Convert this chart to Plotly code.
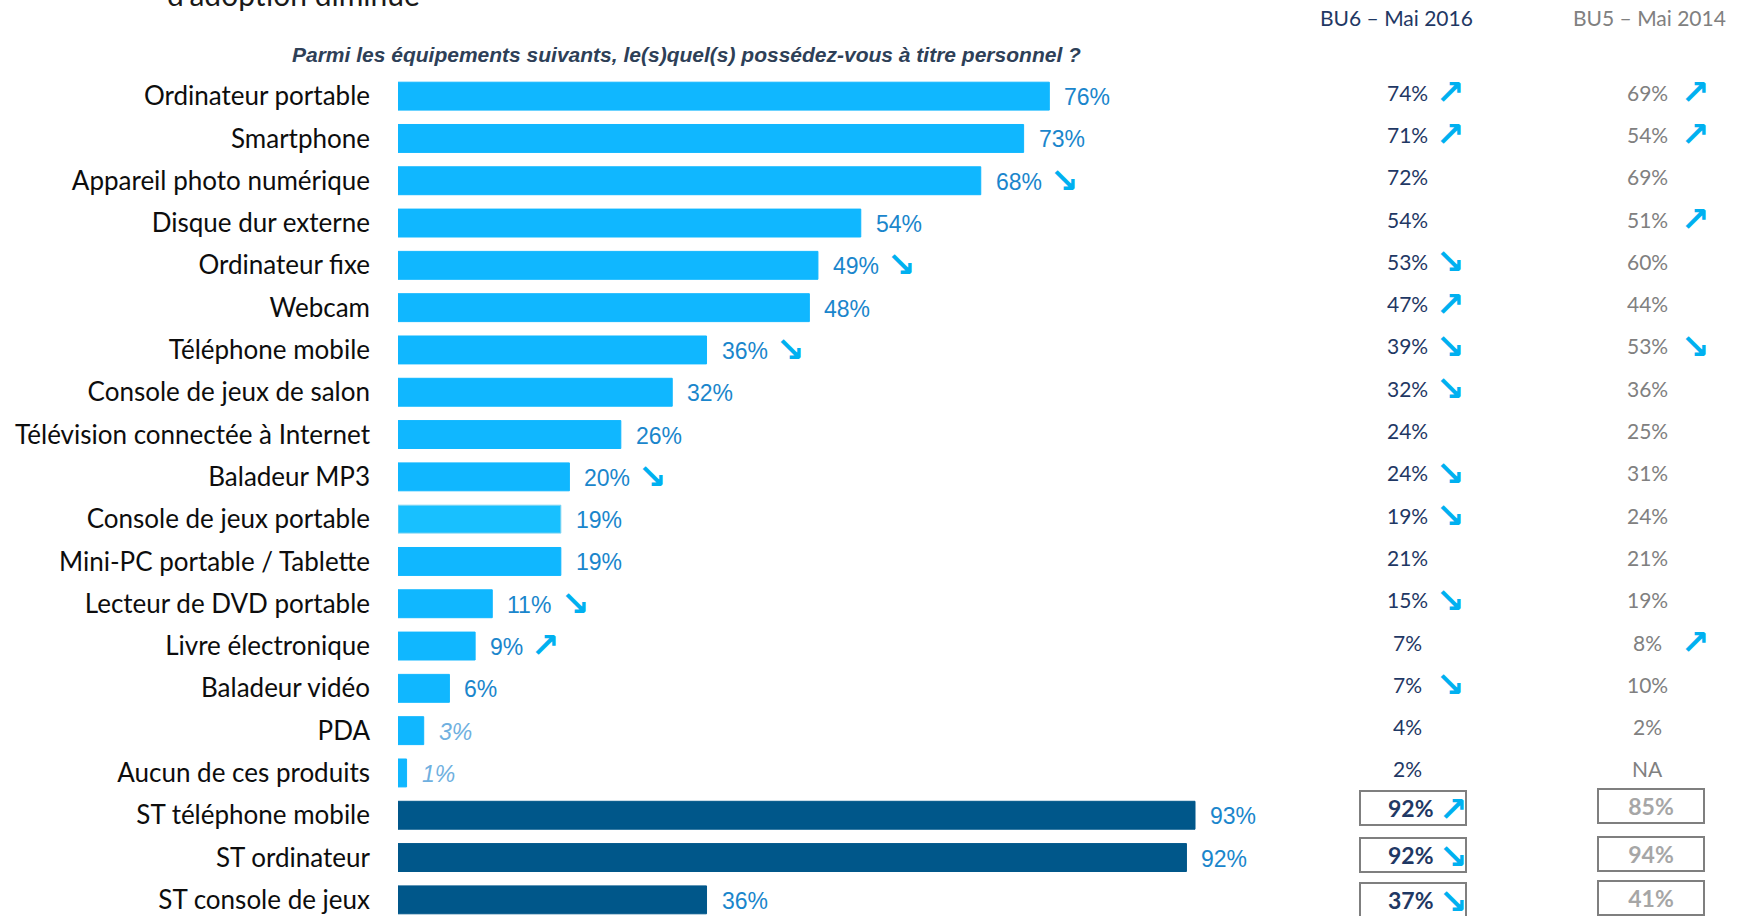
import plotly.graph_objects as go

# ---- data -------------------------------------------------------------
categories = [
    "Ordinateur portable", "Smartphone", "Appareil photo numérique",
    "Disque dur externe", "Ordinateur fixe", "Webcam", "Téléphone mobile",
    "Console de jeux de salon", "Télévision connectée à Internet",
    "Baladeur MP3", "Console de jeux portable", "Mini-PC portable / Tablette",
    "Lecteur de DVD portable", "Livre électronique", "Baladeur vidéo", "PDA",
    "Aucun de ces produits", "ST téléphone mobile", "ST ordinateur",
    "ST console de jeux",
]
values_2018 = [76, 73, 68, 54, 49, 48, 36, 32, 26, 20, 19, 19, 11, 9, 6, 3, 1, 93, 92, 36]
trend_2018 = ["", "", "down", "", "down", "", "down", "", "", "down",
              "", "", "down", "up", "", "", "", "", "", ""]

bu6_labels = ["74%", "71%", "72%", "54%", "53%", "47%", "39%", "32%", "24%", "24%",
              "19%", "21%", "15%", "7%", "7%", "4%", "2%", "92%", "92%", "37%"]
bu6_trend = ["up", "up", "", "", "down", "up", "down", "down", "", "down",
             "down", "", "down", "", "down", "", "", "up", "down", "down"]

bu5_labels = ["69%", "54%", "69%", "51%", "60%", "44%", "53%", "36%", "25%", "31%",
              "24%", "21%", "19%", "8%", "10%", "2%", "NA", "85%", "94%", "41%"]
bu5_trend = ["up", "up", "", "up", "", "", "down", "", "", "",
             "", "", "", "up", "", "", "", "", "", ""]

summary_rows = ["ST téléphone mobile", "ST ordinateur", "ST console de jeux"]

# ---- styling ----------------------------------------------------------
W, H = 1747, 916
ML, MT = 398, 75
PLOT_W, PLOT_H = W - ML, H - MT
PX_PER_PCT = 8.57
ROW_PX = 42.3

LIGHT = "#10B7FF"
DARK = "#00578A"
VALUE_COL = "#1A86CC"
VALUE_SOFT = "#6FB0E0"
ARROW_COL = "#00B0F0"
NAVY = "#1F3864"
GREY = "#808080"
GREY_LIGHT = "#A6A6A6"
ARROWS = {"up": "↗", "down": "↘"}
ARROW_SIZE = 34


def px_x(px):
    return (px - ML) / PLOT_W


def px_y(py):
    return (H - py) / PLOT_H


bar_colors = []
line_colors = []
for c in categories:
    if c in summary_rows:
        bar_colors.append(DARK)
        line_colors.append(DARK)
    elif c == "Console de jeux portable":
        bar_colors.append("#18C0FF")
        line_colors.append("#7ED4F2")
    else:
        bar_colors.append(LIGHT)
        line_colors.append(LIGHT)

fig = go.Figure(
    go.Bar(
        x=values_2018,
        y=categories,
        orientation="h",
        width=0.66,
        marker=dict(color=bar_colors, line=dict(color=line_colors, width=1)),
        hoverinfo="skip",
    )
)

annotations = []


def arrow_ann(x_px, cat, kind, yshift):
    return dict(
        x=px_x(x_px), y=cat, xref="paper", yref="y",
        text=f"<b>{ARROWS[kind]}</b>",
        showarrow=False, xanchor="center", yanchor="middle", yshift=yshift,
        font=dict(family="DejaVu Sans", size=ARROW_SIZE, color=ARROW_COL),
    )


# value labels at the end of each bar
for cat, v, t in zip(categories, values_2018, trend_2018):
    soft = v <= 3
    txt = f"{v}%"
    if soft:
        txt = f"<i>{txt}</i>"
    annotations.append(dict(
        x=v, y=cat, xref="x", yref="y", text=txt, showarrow=False,
        xanchor="left", yanchor="middle", xshift=13, yshift=-1,
        font=dict(family="Liberation Sans, Arial", size=23,
                  color=VALUE_SOFT if soft else VALUE_COL),
    ))
    if t:
        # trend arrow placed just after the value label
        annotations.append(dict(
            x=v, y=cat, xref="x", yref="y", text=f"<b>{ARROWS[t]}</b>",
            showarrow=False, xanchor="left", yanchor="middle",
            xshift=13 + (len(f"{v}%") - 1) * 13 + 20 + 8, yshift=1,
            font=dict(family="DejaVu Sans", size=ARROW_SIZE, color=ARROW_COL),
        ))

# comparison columns
BU6_X, BU6_ARROW_X = 1407, 1450
BU5_X, BU5_ARROW_X = 1647, 1695
box_shift_6 = [7, 3, 0]
box_shift_5 = [9, 4, 2]

for i, cat in enumerate(categories):
    if cat in summary_rows:
        k = summary_rows.index(cat)
        annotations.append(dict(
            x=px_x(1413), y=cat, xref="paper", yref="y", text="",
            showarrow=False, xanchor="center", yanchor="middle",
            width=100, height=28, borderpad=2,
            bordercolor="#7F7F7F", borderwidth=2, yshift=box_shift_6[k],
            font=dict(family="Lato", size=22, color=NAVY),
        ))
        annotations.append(dict(
            x=px_x(1411), y=cat, xref="paper", yref="y",
            text=f"<b>{bu6_labels[i]}</b>",
            showarrow=False, xanchor="center", yanchor="middle",
            yshift=box_shift_6[k],
            font=dict(family="Lato", size=23, color=NAVY),
        ))
        if bu6_trend[i]:
            annotations.append(arrow_ann(1453, cat, bu6_trend[i], box_shift_6[k] - 1))
        annotations.append(dict(
            x=px_x(1651), y=cat, xref="paper", yref="y",
            text=f"<b>{bu5_labels[i]}</b>",
            showarrow=False, xanchor="center", yanchor="middle",
            width=100, height=28, align="center", borderpad=2,
            bordercolor="#7F7F7F", borderwidth=2, yshift=box_shift_5[k],
            font=dict(family="Lato", size=23, color=GREY_LIGHT),
        ))
        continue

    annotations.append(dict(
        x=px_x(BU6_X), y=cat, xref="paper", yref="y", text=bu6_labels[i],
        showarrow=False, xanchor="center", yanchor="middle", yshift=4,
        font=dict(family="Lato", size=21, color=NAVY),
    ))
    if bu6_trend[i]:
        annotations.append(arrow_ann(BU6_ARROW_X, cat, bu6_trend[i], 4))
    annotations.append(dict(
        x=px_x(BU5_X), y=cat, xref="paper", yref="y", text=bu5_labels[i],
        showarrow=False, xanchor="center", yanchor="middle", yshift=4,
        font=dict(family="Lato", size=21, color=GREY),
    ))
    if bu5_trend[i]:
        annotations.append(arrow_ann(BU5_ARROW_X, cat, bu5_trend[i], 4))

# column headers
annotations.append(dict(
    x=px_x(1396), y=px_y(17), xref="paper", yref="paper",
    text="BU6 – Mai 2016", showarrow=False, xanchor="center", yanchor="middle",
    font=dict(family="Lato", size=21, color=NAVY),
))
annotations.append(dict(
    x=px_x(1649), y=px_y(17), xref="paper", yref="paper",
    text="BU5 – Mai 2014", showarrow=False, xanchor="center", yanchor="middle",
    font=dict(family="Lato", size=21, color=GREY),
))

# question asked
annotations.append(dict(
    x=px_x(686), y=px_y(54), xref="paper", yref="paper",
    text="<b><i>Parmi les équipements suivants, le(s)quel(s) possédez-vous à titre personnel ?</i></b>",
    showarrow=False, xanchor="center", yanchor="middle",
    font=dict(family="Liberation Sans, Arial", size=21, color="#2E4057"),
))

# tail of the slide heading above
annotations.append(dict(
    x=px_x(165), y=px_y(14), xref="paper", yref="paper",
    text="d’adoption diminue", showarrow=False, xanchor="left", yanchor="bottom",
    font=dict(family="Lato", size=30, color="#1A1A1A"),
))

fig.update_layout(
    width=W, height=H,
    margin=dict(l=ML, r=0, t=MT, b=0, pad=0),
    paper_bgcolor="white", plot_bgcolor="white",
    showlegend=False,
    annotations=annotations,
    xaxis=dict(range=[0, PLOT_W / PX_PER_PCT], visible=False, fixedrange=True),
    yaxis=dict(
        type="category", categoryorder="array", categoryarray=categories,
        range=[PLOT_H / ROW_PX - 0.5, -0.5],
        showgrid=False, zeroline=False, showline=False, ticks="",
        ticklabelstandoff=27,
        tickfont=dict(family="Lato", size=26, color="#0D0D0D"),
        fixedrange=True,
    ),
)

fig.write_html("out.html")
